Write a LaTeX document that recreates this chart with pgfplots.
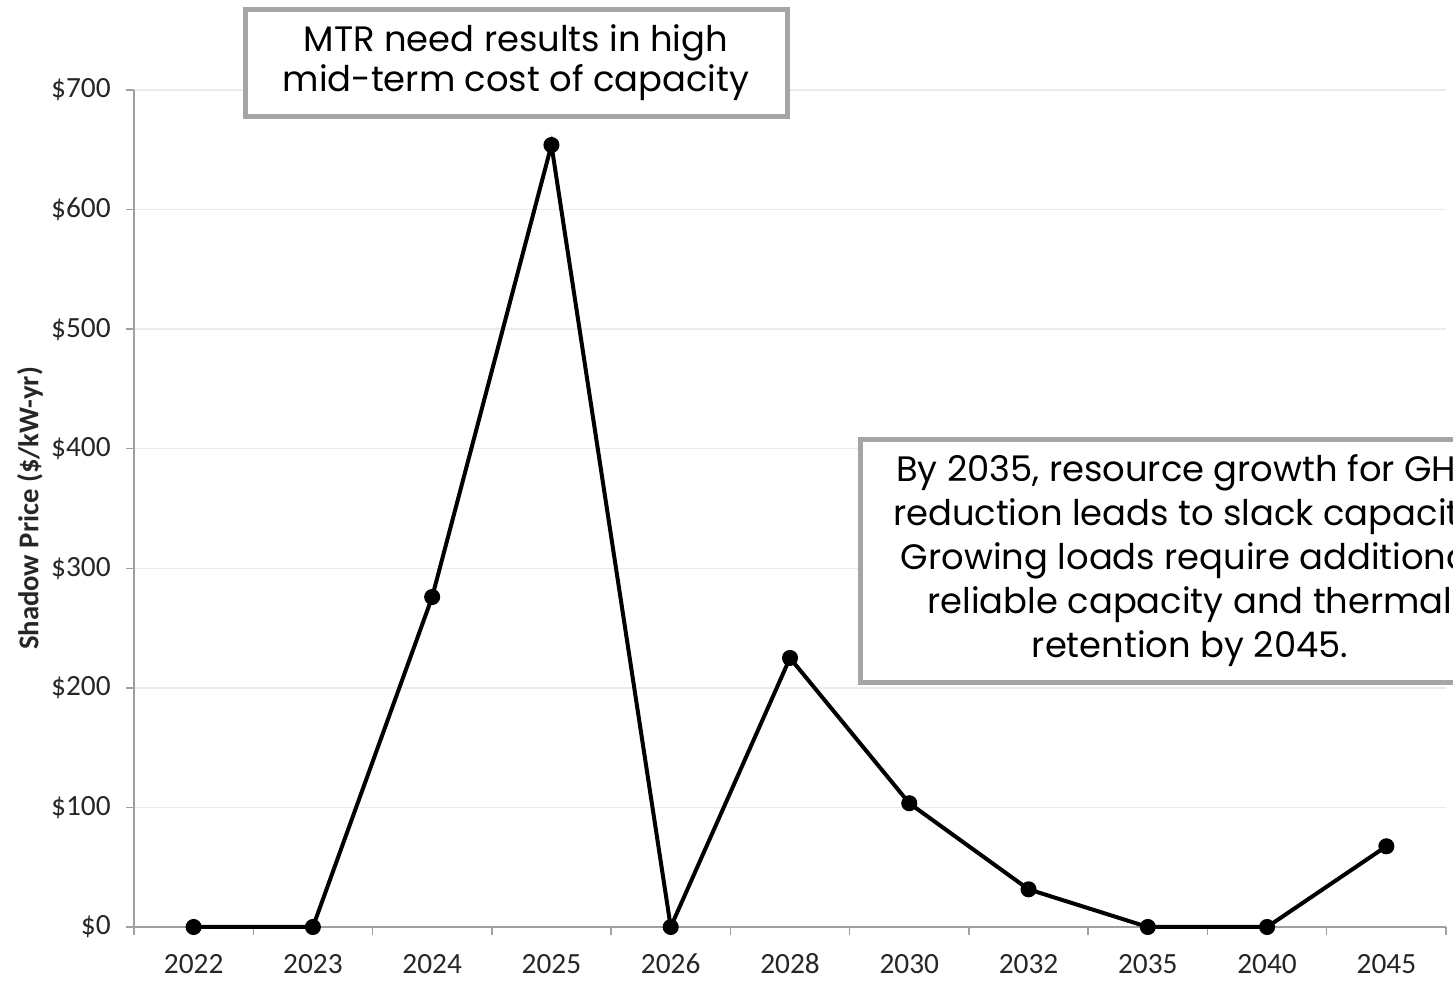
\documentclass[border=0pt]{standalone}
\usepackage{fontspec}
\setmainfont{Carlito}
\newfontfamily\gothic{Poppins}
\usepackage{pgfplots}
\pgfplotsset{compat=1.18}
\definecolor{axisgray}{RGB}{160,160,160}
\definecolor{gridgray}{RGB}{234,234,234}
\definecolor{boxgray}{RGB}{165,165,165}
\newcommand{\px}{0.75pt}
\begin{document}
\begin{tikzpicture}
\begin{axis}[
  scale only axis,
  width=984pt, height=627.75pt,
  xmin=-0.5, xmax=10.5, ymin=0, ymax=700,
  axis lines*=left,
  axis line style={draw=axisgray, line width=1.1pt, -},
  xtick={0,...,10},
  xticklabels={2022,2023,2024,2025,2026,2028,2030,2032,2035,2040,2045},
  major x tick style={draw=none},
  minor xtick={-0.5,0.5,...,10.5},
  minor x tick style={draw=axisgray, line width=1.1pt},
  ytick={0,100,...,700},
  yticklabels={\$0,\$100,\$200,\$300,\$400,\$500,\$600,\$700},
  y tick style={draw=axisgray, line width=1.1pt},
  tick align=outside,
  major tick length=6pt, minor tick length=6pt,
  ymajorgrids,
  major grid style={draw=gridgray, line width=1pt},
  tick label style={font=\fontsize{22}{26}\selectfont, text=black!85},
  xticklabel style={text height=14pt, text depth=0pt, inner sep=1pt, yshift=-13.5pt},
  yticklabel style={xshift=-8pt},
  clip=false,
]
\addplot[black, line width=3pt, mark=*, mark size=4.5pt, mark options={solid}]
  coordinates {(0,0) (1,0) (2,276) (3,654) (4,0) (5,225) (6,103.5) (7,31.5) (8,0) (9,0) (10,67.5)};
\end{axis}

\node[rotate=90, font=\bfseries\fontsize{21.5}{24}\selectfont, text=black!85]
  at (-104*\px, 418.5*\px) {Shadow Price (\$/kW-yr)};

\node[draw=boxgray, line width=5*\px, fill=white, minimum width=542*\px,
  minimum height=107*\px, inner sep=0pt, align=center,
  font=\gothic\fontsize{26.5}{30}\selectfont]
  at (382*\px, 864*\px) {MTR need results in high\\mid-term cost of capacity};

\node[draw=boxgray, line width=5*\px, fill=white, minimum width=659*\px,
  minimum height=243*\px, inner sep=0pt, align=center,
  font=\gothic\fontsize{26.5}{33}\selectfont]
  at (1056*\px, 366*\px) {By 2035, resource growth for GHG\\reduction leads to slack capacity.\\Growing loads require additional\\reliable capacity and thermal\\retention by 2045.};

\pgfresetboundingbox
\useasboundingbox (-134*\px,-54*\px) rectangle (1319*\px, 927*\px);
\end{tikzpicture}
\end{document}
